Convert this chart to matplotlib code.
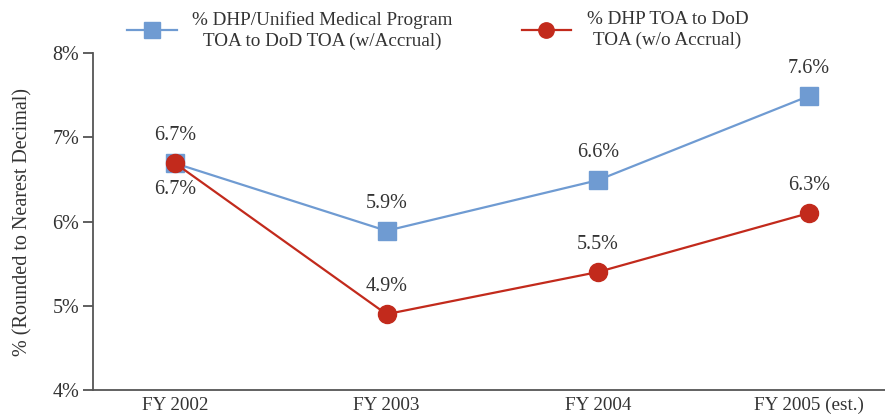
import numpy as np
import matplotlib.pyplot as plt

categories = ['FY 2002', 'FY 2003', 'FY 2004', 'FY 2005 (est.)']
with_accrual = [6.69, 5.89, 6.49, 7.49]
with_accrual_labels = ['6.7%', '5.9%', '6.6%', '7.6%']
without_accrual = [6.69, 4.9, 5.4, 6.1]
without_accrual_labels = ['6.7%', '4.9%', '5.5%', '6.3%']
y_ticks = [4, 5, 6, 7, 8]

plt.rcParams['font.family'] = ['Liberation Serif', 'DejaVu Serif']
text_color = '#333333'
blue = '#6f9bd2'
red = '#c22a1c'
fs = 13.8

fig = plt.figure(figsize=(8.85, 4.16), dpi=100)
ax = fig.add_axes([0.105, 0.0625, 0.895, 0.81])
x = np.arange(len(categories))

l1, = ax.plot(x, with_accrual, color=blue, linewidth=1.6, marker='s',
              markersize=13, label='% DHP/Unified Medical Program\nTOA to DoD TOA (w/Accrual)')
l2, = ax.plot(x, without_accrual, color=red, linewidth=1.6, marker='o',
              markersize=13, label='% DHP TOA to DoD\nTOA (w/o Accrual)')

for xi, yi, lab in zip(x, with_accrual, with_accrual_labels):
    ax.annotate(lab, (xi, yi), xytext=(0, 13), textcoords='offset points',
                ha='center', va='bottom', fontsize=14.5, color=text_color)
for i, (xi, yi, lab) in enumerate(zip(x, without_accrual, without_accrual_labels)):
    if i == 0:
        ax.annotate(lab, (xi, yi), xytext=(0, -12), textcoords='offset points',
                    ha='center', va='top', fontsize=14.5, color=text_color)
    else:
        ax.annotate(lab, (xi, yi), xytext=(0, 13), textcoords='offset points',
                    ha='center', va='bottom', fontsize=14.5, color=text_color)

ax.set_xlim(-0.39, 3.36)
ax.set_ylim(4, 8)
ax.set_yticks(y_ticks)
ax.set_yticklabels([f'{t}%' for t in y_ticks])
ax.set_xticks(x)
ax.set_xticklabels(categories)
ax.tick_params(axis='y', length=7, width=1.2, color='#444444', labelsize=14.5,
               labelcolor=text_color, pad=3)
ax.tick_params(axis='x', length=0, labelsize=fs, labelcolor=text_color, pad=5)
for s in ['top', 'right']:
    ax.spines[s].set_visible(False)
for s in ['left', 'bottom']:
    ax.spines[s].set_color('#555555')
    ax.spines[s].set_linewidth(1.3)
ax.set_ylabel('% (Rounded to Nearest Decimal)', fontsize=14.5, color=text_color, labelpad=14)

leg = fig.legend(handles=[l1, l2], loc='upper left', bbox_to_anchor=(0.124, 1.015),
                 ncol=2, frameon=False, fontsize=fs, handlelength=2.6,
                 columnspacing=3.6, handletextpad=0.8, markerscale=0.85,
                 labelspacing=0.2)
for t in leg.get_texts():
    t.set_color(text_color)
    t.set_ha('center')
    t.set_linespacing(1.25)

fig.savefig('out.png', dpi=100)
